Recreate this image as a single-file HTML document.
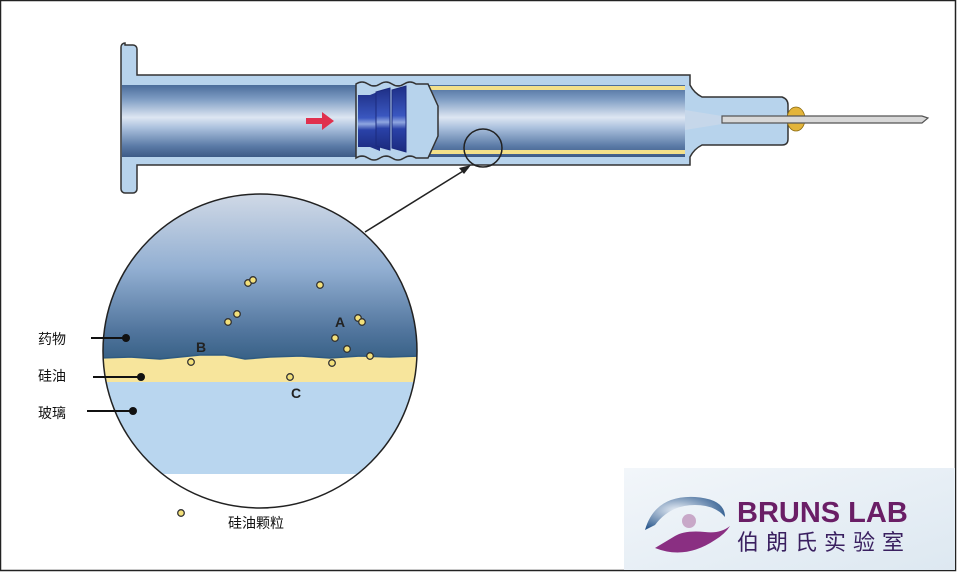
<!DOCTYPE html>
<html><head><meta charset="utf-8"><style>
html,body{margin:0;padding:0;background:#fff;}
svg{display:block;}
text{font-family:"Liberation Sans","Noto Sans CJK SC",sans-serif;}
</style></head><body>
<svg width="958" height="572" viewBox="0 0 958 572" xmlns="http://www.w3.org/2000/svg">
<defs>
<linearGradient id="lum" x1="0" y1="0" x2="0" y2="1">
<stop offset="0" stop-color="#4a6c9a"/><stop offset="0.2" stop-color="#7f9dc4"/><stop offset="0.45" stop-color="#dde6f2"/><stop offset="0.6" stop-color="#a9bfdc"/><stop offset="0.85" stop-color="#5a7aa6"/><stop offset="1" stop-color="#3d5a86"/>
</linearGradient>
<linearGradient id="plg" x1="0" y1="0" x2="0" y2="1">
<stop offset="0" stop-color="#1e2f86"/><stop offset="0.45" stop-color="#3a57c0"/><stop offset="0.55" stop-color="#8fa6e0"/><stop offset="0.65" stop-color="#2a42a8"/><stop offset="1" stop-color="#1b2a7e"/>
</linearGradient>
<linearGradient id="drug" x1="0" y1="0" x2="0" y2="1">
<stop offset="0" stop-color="#d3dbe7"/><stop offset="0.45" stop-color="#92afd2"/><stop offset="0.8" stop-color="#52769e"/><stop offset="1" stop-color="#335d82"/>
</linearGradient>
<linearGradient id="lbg" x1="0" y1="0" x2="1" y2="1"><stop offset="0" stop-color="#f2f6fa"/><stop offset="1" stop-color="#dde8f1"/></linearGradient>
<radialGradient id="logo1" cx="0.4" cy="0.4" r="0.7"><stop offset="0" stop-color="#e8eef6"/><stop offset="1" stop-color="#1f4f86"/></radialGradient>
<clipPath id="cc"><circle cx="260" cy="351" r="157"/></clipPath>
</defs>
<rect x="0.5" y="0.5" width="955" height="570" fill="#fff" stroke="#222" stroke-width="1.5"/>

<!-- syringe -->
<path d="M125,45 h8 a4,4 0 0 1 4,4 v26 h553 v10 q4,8 12,12 h80 q6,2 6,8 v34 q0,6 -6,6 h-80 q-8,4 -12,12 v8 h-553 v24 a4,4 0 0 1 -4,4 h-8 a4,4 0 0 1 -4,-4 v-142 a4,4 0 0 1 4,-4z" fill="#b7d3ec" stroke="#333" stroke-width="1.5"/>
<rect x="122" y="85" width="563" height="72" fill="url(#lum)"/>
<rect x="430" y="86" width="255" height="4" fill="#f3e08a"/>
<rect x="430" y="150" width="255" height="4" fill="#f3e08a"/>
<path d="M685,110 L722,116 V124 L685,130Z" fill="#c9d8ea" opacity="0.8"/>
<ellipse cx="796" cy="119" rx="9" ry="12" fill="#e3b43a" stroke="#8a6a10" stroke-width="0.8"/>
<path d="M722,116 H922 L928,118 L922,123 H722Z" fill="#d8d8d8" stroke="#555" stroke-width="1.2"/>
<!-- plunger -->
<path d="M356,84 q6,-4 12,0 q6,4 12,0 q6,-4 12,0 q6,4 12,0 q6,-4 12,0 h12 l10,22 v30 l-10,22 h-12 q-6,-4 -12,0 q-6,4 -12,0 q-6,-4 -12,0 q-6,4 -12,0 q-6,-4 -12,0z" fill="#b7d3ec" stroke="#333" stroke-width="1.5"/>
<path d="M358,95 h12 l10,-4 v60 l-10,-4 h-12z" fill="url(#plg)"/>
<path d="M376,92 l14,-4 v62 l-14,-4z" fill="url(#plg)" stroke="#1b2a7e"/>
<path d="M392,90 l14,-4 v66 l-14,-4z" fill="url(#plg)" stroke="#1b2a7e"/>
<path d="M306,118 h16 v-6 l12,9 l-12,9 v-6 h-16z" fill="#e0304e"/>
<circle cx="483" cy="148" r="19" fill="none" stroke="#222" stroke-width="1.5"/>
<line x1="365" y1="232" x2="468" y2="168" stroke="#222" stroke-width="1.5"/>
<path d="M471,165 l-12,3 l5,6z" fill="#222"/>

<!-- magnified circle -->
<g clip-path="url(#cc)">
<rect x="100" y="190" width="320" height="175" fill="url(#drug)"/>
<rect x="100" y="380" width="320" height="94" fill="#b9d6ef"/>
<path d="M100,358 L130,357 L160,359 L200,355 L225,355 L245,359 L270,357 L300,356 L330,358 L360,356 L390,357 L420,356 V382 H100Z" fill="#f7e59c"/>
<path d="M100,358 L130,357 L160,359 L200,355 L225,355 L245,359 L270,357 L300,356 L330,358 L360,356 L390,357 L420,356" fill="none" stroke="#2f5a80" stroke-width="1.5"/>
</g>
<circle cx="260" cy="351" r="157" fill="none" stroke="#222" stroke-width="1.5"/>
<g fill="#f3e07a" stroke="#333" stroke-width="1.3">
<circle cx="248" cy="283" r="3.3"/><circle cx="253" cy="280" r="3.3"/><circle cx="320" cy="285" r="3.3"/>
<circle cx="228" cy="322" r="3.3"/><circle cx="237" cy="314" r="3.3"/><circle cx="358" cy="318" r="3.3"/>
<circle cx="362" cy="322" r="3.3"/><circle cx="335" cy="338" r="3.3"/><circle cx="347" cy="349" r="3.3"/>
<circle cx="370" cy="356" r="3.3"/><circle cx="332" cy="363" r="3.3"/><circle cx="191" cy="362" r="3.3"/>
<circle cx="290" cy="377" r="3.3"/><circle cx="181" cy="513" r="3.3"/>
</g>
<g font-size="14" font-weight="bold" fill="#222">
<text x="335" y="327">A</text><text x="196" y="352">B</text><text x="291" y="398">C</text>
</g>
<g font-size="14" fill="#111">
<text x="38" y="344">药物</text><text x="38" y="381">硅油</text><text x="38" y="418">玻璃</text>
<text x="228" y="528">硅油颗粒</text>
</g>
<g stroke="#111" stroke-width="2"><line x1="91" y1="338" x2="126" y2="338"/><line x1="93" y1="377" x2="141" y2="377"/><line x1="87" y1="411" x2="133" y2="411"/></g>
<g fill="#111"><circle cx="126" cy="338" r="4"/><circle cx="141" cy="377" r="4"/><circle cx="133" cy="411" r="4"/></g>

<!-- logo -->
<rect x="624" y="468" width="331" height="102" fill="url(#lbg)"/>
<path d="M645,530 q10,-35 50,-33 q30,2 30,20 q-10,-12 -30,-12 q-25,0 -40,20z" fill="url(#logo1)"/>
<path d="M655,548 q30,12 60,-8 q10,-6 15,-14 q-10,8 -25,6 q-20,-2 -30,4 q-10,6 -20,12z" fill="#8a2f82"/>
<circle cx="689" cy="521" r="7" fill="#c8a8c8"/>
<text x="737" y="522" font-size="29" font-weight="bold" fill="#6a1e66">BRUNS LAB</text>
<text x="737" y="550" font-size="22" fill="#3a2060" letter-spacing="7">伯朗氏实验室</text>
</svg>
</body></html>
